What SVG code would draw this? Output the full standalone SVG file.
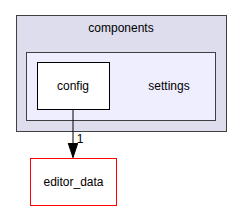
<svg xmlns="http://www.w3.org/2000/svg" width="243" height="212" viewBox="0 0 243 212">
<style>
text{font-family:"Liberation Sans",Arial,sans-serif;font-size:12px;text-anchor:middle;fill:#000}
.cl{stroke:#404040;stroke-width:1}
</style>
<defs>
<marker id="ah" markerWidth="16" markerHeight="12" refX="15" refY="5" orient="auto" markerUnits="userSpaceOnUse">
<path d="M0,0 L15,5 L0,10 z" fill="#000" stroke="#000" stroke-width="1"/>
</marker>
</defs>
<rect width="243" height="212" fill="#fff"/>
<g id="cluster_components">
<rect class="cl" x="16.5" y="15.5" width="210" height="116" fill="#ddddee"/>
<text x="121" y="32">components</text>
</g>
<g id="cluster_settings">
<rect class="cl" x="26.5" y="52.5" width="189" height="68" fill="#eeeeff"/>
<text x="169" y="90">settings</text>
</g>
<g id="node_config">
<rect x="37.5" y="62.5" width="72" height="47" fill="#fff" stroke="#000"/>
<text x="73" y="90">config</text>
</g>
<g id="node_editor_data">
<rect x="30.5" y="158.5" width="86" height="47" fill="#fff" stroke="#ff0000"/>
<text x="73.5" y="186">editor_data</text>
</g>
<g id="edges">
<line x1="73" y1="110" x2="73" y2="157.5" stroke="#000" marker-end="url(#ah)"/>
<text x="80" y="143">1</text>
</g>
</svg>
